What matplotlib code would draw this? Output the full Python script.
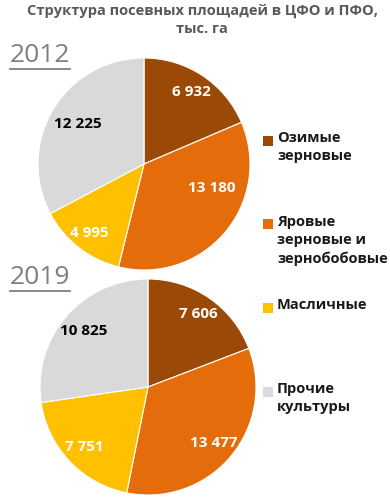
import numpy as np
import matplotlib

matplotlib.use("Agg")
import matplotlib.pyplot as plt
from matplotlib.patches import Rectangle
from matplotlib.lines import Line2D

plt.rcParams["font.family"] = ["Open Sans", "DejaVu Sans"]

# данные
categories = ["Озимые\nзерновые", "Яровые\nзерновые и\nзернобобовые", "Масличные", "Прочие\nкультуры"]
years = ["2012", "2019"]
values_2012 = [6932, 13180, 4995, 12225]
values_2019 = [7606, 13477, 7751, 10825]

colors = ["#9a4a06", "#e46c0a", "#ffc000", "#d9d9d9"]
label_colors = ["white", "white", "white", "black"]

W, H = 390, 498
fig = plt.figure(figsize=(W / 100, H / 100), dpi=100)
fig.patch.set_facecolor("white")


def px_axes(x0, y0, x1, y1):
    # пиксели от верхнего левого угла -> координаты фигуры
    return fig.add_axes([x0 / W, 1 - y1 / H, (x1 - x0) / W, (y1 - y0) / H])


def fmt(v):
    return f"{v:,}".replace(",", " ")


def draw_pie(ax, values, dist, shift):
    wedges, _ = ax.pie(values, colors=colors, startangle=90, counterclock=False,
                       radius=1.0, wedgeprops=dict(edgecolor="white", linewidth=0.8))
    for i, w in enumerate(wedges):
        ang = np.deg2rad((w.theta1 + w.theta2) / 2 + shift[i])
        ax.text(dist[i] * np.cos(ang), dist[i] * np.sin(ang), fmt(values[i]),
                ha="center", va="center", fontsize=11, fontweight="bold",
                color=label_colors[i])
    ax.set_xlim(-1, 1)
    ax.set_ylim(-1, 1)
    ax.set_aspect("equal")
    ax.axis("off")


ax1 = px_axes(38, 58, 250, 270)
draw_pie(ax1, values_2012, [0.81, 0.68, 0.83, 0.73], [0, 21, 0, 0])

ax2 = px_axes(40, 279, 256, 495)
draw_pie(ax2, values_2019, [0.82, 0.80, 0.81, 0.79], [0, 0, 0, 0])

fig.text(202 / W, 1 - 4 / H, "Структура посевных площадей в ЦФО и ПФО,\nтыс. га",
         ha="center", va="top", fontsize=10.5, fontweight="bold", color="#595959",
         linespacing=1.3)

for yr, ytop in zip(years, [43, 265]):
    fig.text(10 / W, 1 - ytop / H, yr, ha="left", va="top", fontsize=19,
             color="#7f7f7f")
    fig.add_artist(Line2D([10 / W, 70 / W], [1 - (ytop + 26) / H] * 2,
                          color="#7f7f7f", linewidth=1.3))

# легенда
for i, (name, c) in enumerate(zip(categories, colors)):
    ytop = 131 + i * 83.5
    fig.add_artist(Rectangle((263 / W, 1 - (ytop + 15) / H), 10 / W, 10 / H,
                             transform=fig.transFigure, facecolor=c, edgecolor="none"))
    fig.text(277 / W, 1 - ytop / H, name, ha="left", va="top", fontsize=10.5,
             fontweight="bold", color="#1a1a1a", linespacing=1.4)

fig.savefig("out.png", dpi=100)
